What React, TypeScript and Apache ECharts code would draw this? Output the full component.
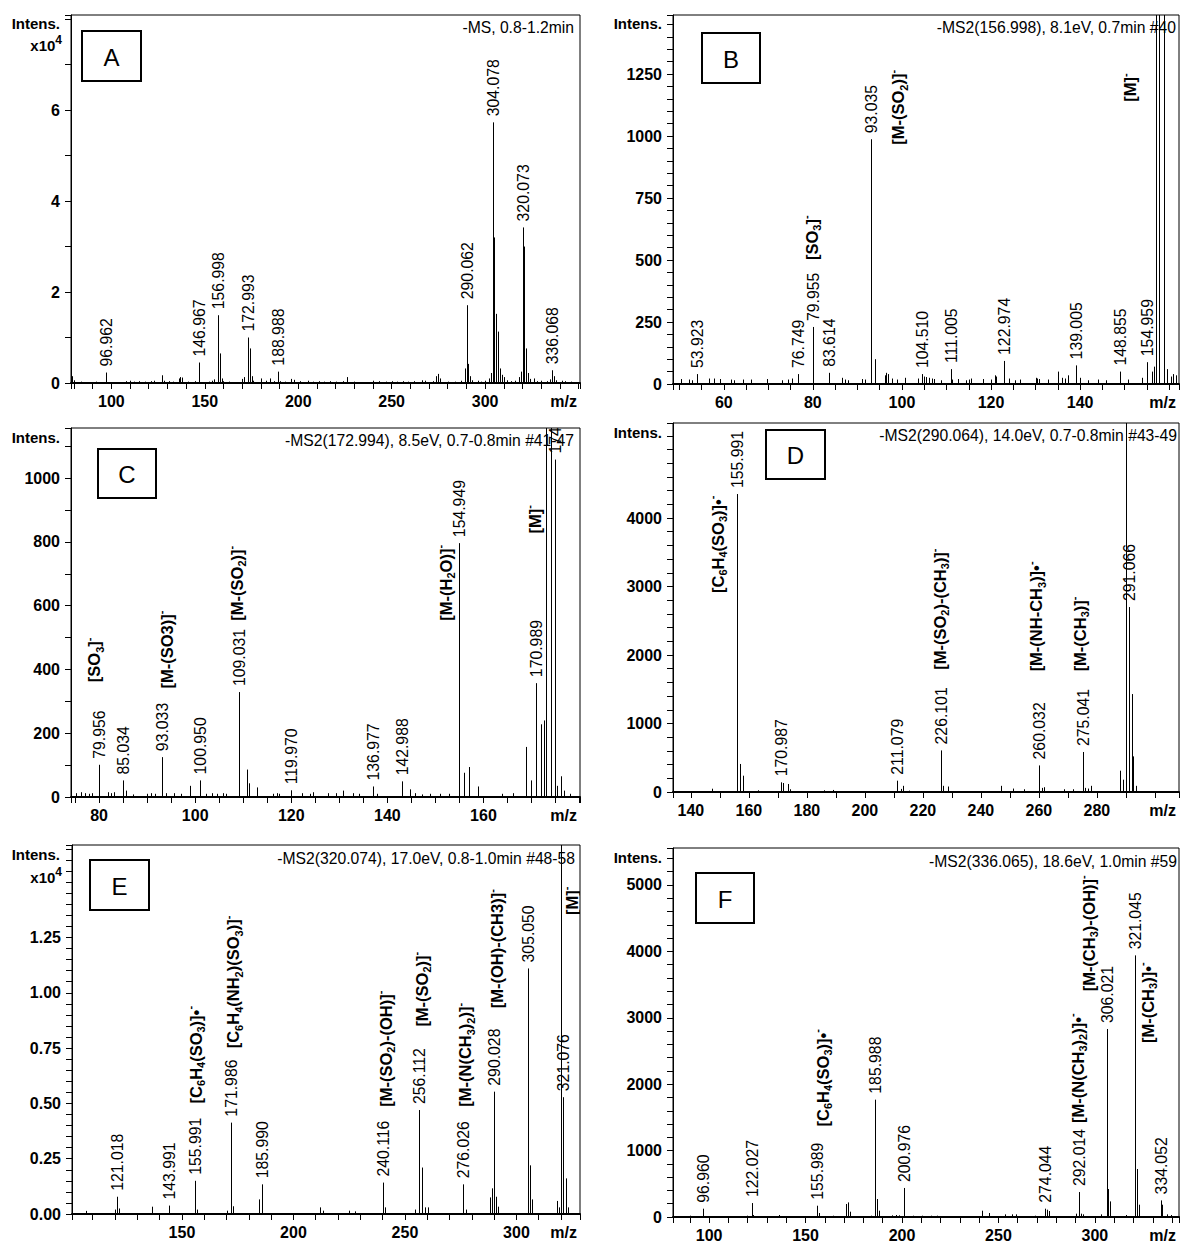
import React, { useEffect, useRef } from "react";
import * as echarts from "echarts";

type Peak = [number, number];
type Ann = [number, number, string];

const FONT = '"Liberation Sans", Arial, Helvetica, sans-serif';

// ---------------- Panel A (intensity in units of 10^4) ----------------
const titleA = "-MS, 0.8-1.2min";
const xLabelsA = [100, 150, 200, 250, 300];
const yLabelsA = [0, 2, 4, 6];
const labeledA: Peak[] = [
  [96.962, 0.23], [146.967, 0.45], [156.998, 1.49], [172.993, 1.0], [188.988, 0.25],
  [290.062, 1.71], [304.078, 5.73], [320.073, 3.42], [336.068, 0.28],
];
const otherA: Peak[] = [
  [79, 0.15], [80, 0.06], [84, 0.03], [88, 0.02], [92, 0.03], [101, 0.02], [108, 0.04], [110, 0.05],
  [112, 0.03], [115, 0.04], [118, 0.03], [121, 0.04], [123, 0.05], [127, 0.17], [128, 0.05], [131, 0.04],
  [133, 0.03], [136, 0.1], [137, 0.13], [138, 0.12], [141, 0.03], [145, 0.04], [152, 0.03], [154, 0.05],
  [155, 0.08], [158, 0.65], [159, 0.1], [160, 0.04], [163, 0.03], [170, 0.09], [171, 0.13], [174, 0.76],
  [175, 0.15], [176, 0.05], [180, 0.1], [183, 0.05], [185, 0.1], [187, 0.04], [190, 0.04], [193, 0.03],
  [196, 0.09], [198, 0.07], [201, 0.04], [205, 0.05], [208, 0.03], [211, 0.04], [214, 0.03], [217, 0.04],
  [220, 0.03], [224, 0.04], [226, 0.13], [230, 0.03], [233, 0.02], [240, 0.05], [243, 0.04], [247, 0.03],
  [250, 0.04], [253, 0.03], [256, 0.04], [259, 0.03], [262, 0.04], [266, 0.06], [268, 0.05], [272, 0.04],
  [274, 0.15], [275, 0.2], [276, 0.1], [280, 0.03], [284, 0.03], [287, 0.05], [289, 0.32], [291, 0.42],
  [292, 0.15], [293, 0.06], [296, 0.05], [298, 0.03], [300, 0.05], [302, 0.1], [303, 0.22], [305, 3.2],
  [306, 1.52], [307, 1.13], [308, 0.32], [309, 0.18], [310, 0.13], [312, 0.06], [314, 0.04], [316, 0.05],
  [318, 0.13], [319, 0.25], [321, 3.0], [322, 0.76], [323, 0.22], [324, 0.09], [326, 0.1], [328, 0.04],
  [330, 0.05], [333, 0.04], [335, 0.08], [337, 0.15], [338, 0.06], [341, 0.05], [343, 0.04], [346, 0.03],
];
const precursorA: Peak[] = [];
const annotationsA: Ann[] = [];

// ---------------- Panel B ----------------
const titleB = "-MS2(156.998), 8.1eV, 0.7min #40";
const xLabelsB = [60, 80, 100, 120, 140];
const yLabelsB = [0, 250, 500, 750, 1000, 1250];
const labeledB: Peak[] = [
  [53.923, 40], [76.749, 40], [79.955, 230], [83.614, 45], [93.035, 987], [104.51, 40],
  [111.005, 60], [122.974, 93], [139.005, 75], [148.855, 50], [154.959, 88],
];
const otherB: Peak[] = [
  [50.3, 20], [52.2, 18], [52.8, 15], [56.7, 22], [57.8, 22], [59.2, 20], [61.7, 18], [62.2, 15],
  [64.3, 18], [66.0, 18], [69.6, 20], [73.0, 15], [74.5, 18], [75.3, 22], [86.6, 25], [87.2, 18],
  [88.0, 15], [91.0, 20], [91.7, 18], [94.0, 100], [96.1, 35], [96.5, 45], [96.9, 40], [97.8, 22],
  [98.8, 18], [100.7, 25], [103.7, 22], [104.9, 30], [105.4, 28], [106.1, 25], [106.7, 22], [107.3, 20],
  [108.8, 15], [111.3, 18], [112.6, 20], [114.3, 15], [115.1, 18], [115.6, 22], [118.1, 20], [120.0, 18],
  [120.8, 35], [121.1, 30], [124.0, 22], [125.3, 15], [126.6, 18], [130.0, 25], [130.4, 22], [130.8, 20],
  [132.9, 18], [135.0, 50], [135.9, 25], [136.6, 22], [137.2, 35], [140.0, 25], [141.8, 15], [144.0, 18],
  [145.9, 15], [150.7, 18], [153.9, 25], [156.2, 50], [156.6, 70], [159.6, 60], [160.4, 30], [160.9, 40],
  [161.6, 35],
];
const precursorB: Peak[] = [[156.998, 9000], [157.6, 5000], [158.8, 3000]];
const annotationsB: Ann[] = [
  [99.2, 965, "[M-(SO_2)]^-"],
  [79.8, 500, "[SO_3]^-"],
  [151.3, 1138, "[M]^-"],
];

// ---------------- Panel C ----------------
const titleC = "-MS2(172.994), 8.5eV, 0.7-0.8min #41-47";
const xLabelsC = [80, 100, 120, 140, 160];
const yLabelsC = [0, 200, 400, 600, 800, 1000];
const labeledC: Peak[] = [
  [79.956, 101], [85.034, 52], [93.033, 125], [100.95, 52], [109.031, 329], [119.97, 21],
  [136.977, 33], [142.988, 49], [154.949, 796], [170.989, 357], [174.99, 1058],
];
const otherC: Peak[] = [
  [75.1, 12], [76.3, 15], [77.0, 12], [77.8, 10], [78.6, 12], [81.8, 15], [82.5, 12], [83.0, 15],
  [85.7, 20], [87.0, 8], [90.0, 10], [90.8, 12], [91.6, 10], [93.9, 12], [95.5, 12], [97.1, 10],
  [99.0, 35], [102.2, 10], [103.4, 12], [104.5, 10], [105.7, 12], [106.5, 10], [110.8, 86], [111.1, 43],
  [112.9, 30], [116.3, 10], [117.0, 12], [117.5, 10], [122.2, 12], [123.8, 10], [124.6, 15], [127.7, 12],
  [129.3, 12], [130.8, 20], [132.8, 12], [134.0, 10], [137.9, 10], [144.8, 24], [145.8, 12], [147.3, 8],
  [148.9, 10], [150.9, 10], [152.8, 10], [156.0, 76], [157.0, 94], [158.9, 33], [163.8, 10], [166.2, 12],
  [168.9, 157], [169.9, 52], [172.0, 228], [172.6, 240], [175.3, 35], [176.1, 65], [176.7, 20], [178.0, 10],
];
const precursorC: Peak[] = [[172.994, 5000], [174.05, 3000]];
const annotationsC: Ann[] = [
  [79.0, 360, "[SO_3]^-"],
  [94.1, 340, "[M-(SO3)]^-"],
  [108.6, 553, "[M-(SO_2)]^-"],
  [152.2, 553, "[M-(H_2O)]^-"],
  [170.7, 826, "[M]^-"],
];

// ---------------- Panel D ----------------
const titleD = "-MS2(290.064), 14.0eV, 0.7-0.8min #43-49";
const xLabelsD = [140, 160, 180, 200, 220, 240, 260, 280];
const yLabelsD = [0, 1000, 2000, 3000, 4000];
const labeledD: Peak[] = [
  [155.991, 4350], [170.987, 141], [211.079, 165], [226.101, 607], [260.032, 388], [275.041, 584],
  [291.066, 2700],
];
const otherD: Peak[] = [
  [147.3, 48], [157.0, 409], [157.9, 238], [163.1, 25], [171.9, 131], [173.5, 117], [174.2, 40],
  [185.9, 25], [188.9, 30], [212.3, 45], [213.2, 90], [215.2, 20], [227.1, 90], [228.8, 80], [246.8, 90],
  [250.9, 50], [254.9, 40], [261.1, 60], [261.8, 70], [268.5, 40], [271.8, 40], [276.0, 60], [277.0, 50],
  [278.0, 90], [288.0, 311], [288.9, 180], [292.0, 1430], [292.6, 520], [293.4, 90],
];
const precursorD: Peak[] = [[290.064, 9000]];
const annotationsD: Ann[] = [
  [149.2, 2905, "[C_6H_4(SO_3)]•^-"],
  [225.9, 1785, "[M-(SO_2)-(CH_3)]^-"],
  [259.1, 1761, "[M-(NH-CH_3)]•^-"],
  [274.0, 1761, "[M-(CH_3)]^-"],
];

// ---------------- Panel E (intensity in units of 10^4) ----------------
const titleE = "-MS2(320.074), 17.0eV, 0.8-1.0min #48-58";
const xLabelsE = [150, 200, 250, 300];
const yLabelsE = [0, 0.25, 0.5, 0.75, 1, 1.25];
const labeledE: Peak[] = [
  [121.018, 0.078], [143.991, 0.038], [155.991, 0.15], [171.986, 0.413], [185.99, 0.134],
  [240.116, 0.142], [256.112, 0.47], [276.026, 0.134], [290.028, 0.553], [305.05, 1.11], [321.076, 0.528],
];
const otherE: Peak[] = [
  [107.2, 0.014], [119.8, 0.02], [121.9, 0.025], [136.6, 0.033], [156.7, 0.02], [170.1, 0.015],
  [173.1, 0.035], [184.4, 0.066], [212.0, 0.03], [213.2, 0.015], [225.0, 0.015], [227.6, 0.012],
  [241.1, 0.03], [254.6, 0.02], [257.5, 0.21], [258.9, 0.03], [260.2, 0.03], [277.4, 0.02],
  [288.3, 0.075], [289.1, 0.116], [290.8, 0.078], [291.6, 0.033], [305.9, 0.22], [306.9, 0.066],
  [318.1, 0.059], [318.9, 0.03], [322.2, 0.161], [323.3, 0.03],
];
const precursorE: Peak[] = [[320.074, 5]];
const annotationsE: Ann[] = [
  [156.1, 0.5, "[C_6H_4(SO_3)]•^-"],
  [173.0, 0.749, "[C_6H_4(NH_2)(SO_3)]^-"],
  [241.5, 0.485, "[M-(SO_2)-(OH)]^-"],
  [257.6, 0.847, "[M-(SO_2)]^-"],
  [277.0, 0.485, "[M-(N(CH_3)_2)]^-"],
  [291.4, 0.93, "[M-(OH)-(CH3)]^-"],
  [324.8, 1.352, "[M]^-"],
];

// ---------------- Panel F ----------------
const titleF = "-MS2(336.065), 18.6eV, 1.0min #59";
const xLabelsF = [100, 150, 200, 250, 300];
const yLabelsF = [0, 1000, 2000, 3000, 4000, 5000];
const labeledF: Peak[] = [
  [96.96, 125], [122.027, 210], [155.989, 170], [185.988, 1767], [200.976, 437], [274.044, 125],
  [292.014, 376], [306.021, 2831], [321.045, 3940], [334.052, 250],
];
const otherF: Peak[] = [
  [88.5, 15], [90.1, 20], [94.0, 15], [119.5, 20], [123.0, 30], [136.1, 30], [144.9, 15], [156.9, 60],
  [164.4, 20], [171.0, 196], [172.0, 220], [173.0, 80], [184.0, 20], [187.0, 271], [188.0, 95],
  [194.8, 25], [196.7, 30], [198.7, 25], [205.5, 20], [210.4, 20], [215.3, 20], [218.2, 20], [241.7, 95],
  [245.2, 60], [253.4, 40], [257.0, 40], [259.3, 40], [269.1, 20], [275.0, 110], [276.0, 90], [290.4, 50],
  [293.0, 50], [294.0, 40], [303.3, 40], [307.0, 421], [308.0, 235], [316.0, 30], [322.0, 723],
  [323.0, 185], [335.0, 185], [337.6, 40], [339.5, 30],
];
const precursorF: Peak[] = [];
const annotationsF: Ann[] = [
  [159.0, 1364, "[C_6H_4(SO_3)]•^-"],
  [291.1, 1416, "[M-(N(CH_3)_2)]•^-"],
  [296.9, 3398, "[M-(CH_3)-(OH)]^-"],
  [327.3, 2620, "[M-(CH_3)]•^-"],
];

// ---------------- layout (positions / scales, not data) ----------------
const PANELS = [
  { letter: "A", title: titleA, labeled: labeledA, other: otherA, precursor: precursorA, ann: annotationsA,
    xLabels: xLabelsA, yLabels: yLabelsA, xMin: 78.4, xMax: 350.8, xTick: 10, yMax: 8.09, yTick: 1, yDigits: 0, exp: true,
    left: 71, top: 15, width: 509, height: 368, box: [82, 31, 59, 50], intensX: 60, intensY: 23, expY: 45, titleX: 574, titleY: 27 },
  { letter: "B", title: titleB, labeled: labeledB, other: otherB, precursor: precursorB, ann: annotationsB,
    xLabels: xLabelsB, yLabels: yLabelsB, xMin: 48.6, xMax: 162.2, xTick: 5, yMax: 1488, yTick: 50, yDigits: 0, exp: false,
    left: 673, top: 15, width: 506, height: 369, box: [702, 33, 58, 50], intensX: 662, intensY: 23, expY: 0, titleX: 1176, titleY: 27 },
  { letter: "C", title: titleC, labeled: labeledC, other: otherC, precursor: precursorC, ann: annotationsC,
    xLabels: xLabelsC, yLabels: yLabelsC, xMin: 74.15, xMax: 180.1, xTick: 5, yMax: 1157, yTick: 100, yDigits: 0, exp: false,
    left: 71, top: 428, width: 509, height: 369, box: [98, 449, 58, 49], intensX: 60, intensY: 437, expY: 0, titleX: 574, titleY: 440 },
  { letter: "D", title: titleD, labeled: labeledD, other: otherD, precursor: precursorD, ann: annotationsD,
    xLabels: xLabelsD, yLabels: yLabelsD, xMin: 133.85, xMax: 308.3, xTick: 10, yMax: 5387, yTick: 200, yDigits: 0, exp: false,
    left: 673, top: 423, width: 506, height: 369, box: [766, 430, 59, 49], intensX: 662, intensY: 432, expY: 0, titleX: 1177, titleY: 435 },
  { letter: "E", title: titleE, labeled: labeledE, other: otherE, precursor: precursorE, ann: annotationsE,
    xLabels: xLabelsE, yLabels: yLabelsE, xMin: 100.7, xMax: 328.5, xTick: 10, yMax: 1.668, yTick: 0.05, yDigits: 2, exp: true,
    left: 72, top: 845, width: 508, height: 369, box: [90, 860, 59, 50], intensX: 60, intensY: 854, expY: 877, titleX: 575, titleY: 858 },
  { letter: "F", title: titleF, labeled: labeledF, other: otherF, precursor: precursorF, ann: annotationsF,
    xLabels: xLabelsF, yLabels: yLabelsF, xMin: 81.3, xMax: 343.6, xTick: 10, yMax: 5557, yTick: 200, yDigits: 0, exp: false,
    left: 673, top: 848, width: 506, height: 369, box: [696, 873, 58, 50], intensX: 662, intensY: 857, expY: 0, titleX: 1177, titleY: 861 },
];

const RICH = {
  n: { fontSize: 16.5, fontWeight: "bold", fontFamily: FONT, fill: "#000", lineHeight: 22 },
  sb: { fontSize: 11, fontWeight: "bold", fontFamily: FONT, fill: "#000", lineHeight: 11, verticalAlign: "bottom" },
  sp: { fontSize: 11, fontWeight: "bold", fontFamily: FONT, fill: "#000", lineHeight: 11, verticalAlign: "top" },
};

function toRich(s: string): string {
  let out = "";
  let buf = "";
  const flush = () => {
    if (buf) {
      out += "{n|" + buf + "}";
      buf = "";
    }
  };
  for (let i = 0; i < s.length; i++) {
    const c = s[i];
    if ((c === "_" || c === "^") && i + 1 < s.length) {
      flush();
      out += "{" + (c === "_" ? "sb" : "sp") + "|" + s[i + 1] + "}";
      i++;
    } else {
      buf += c;
    }
  }
  flush();
  return out;
}

const near = (list: number[], v: number) => list.find((l) => Math.abs(l - v) < 1e-6);

function buildOption() {
  const grid: any[] = [];
  const xAxis: any[] = [];
  const yAxis: any[] = [];
  const series: any[] = [];
  const graphic: any[] = [];

  PANELS.forEach((p, i) => {
    grid.push({
      left: p.left, top: p.top, width: p.width, height: p.height,
      show: true, borderColor: "#000", borderWidth: 1, backgroundColor: "rgba(0,0,0,0)",
      containLabel: false, outerBoundsMode: "none",
    });
    xAxis.push({
      type: "value", gridIndex: i, min: p.xMin, max: p.xMax, minInterval: p.xTick, maxInterval: p.xTick,
      axisLine: { show: true, onZero: false, lineStyle: { color: "#000", width: 2 } },
      axisTick: { show: true, length: 6, lineStyle: { color: "#000", width: 1 } },
      splitLine: { show: false },
      axisLabel: {
        margin: 10, showMinLabel: true, showMaxLabel: true, color: "#000", fontSize: 16, fontWeight: "bold", fontFamily: FONT,
        formatter: (v: number) => { const l = near(p.xLabels, v); return l === undefined ? "" : String(l); },
      },
    });
    yAxis.push({
      type: "value", gridIndex: i, min: 0, max: p.yMax, minInterval: p.yTick, maxInterval: p.yTick,
      axisLine: { show: true, onZero: false, lineStyle: { color: "#000", width: 1 } },
      axisTick: { show: true, length: 6, lineStyle: { color: "#000", width: 1 } },
      splitLine: { show: false },
      axisLabel: {
        margin: 11, showMinLabel: true, showMaxLabel: true, color: "#000", fontSize: 16, fontWeight: "bold", fontFamily: FONT,
        formatter: (v: number) => { const l = near(p.yLabels, v); return l === undefined ? "" : l.toFixed(p.yDigits); },
      },
    });

    const sticks = [...p.other, ...p.labeled, ...p.precursor];
    series.push({
      type: "custom", xAxisIndex: i, yAxisIndex: i, clip: true, silent: true, z: 3,
      data: sticks,
      renderItem: (_params: any, api: any) => {
        const m = api.value(0);
        const v = api.value(1);
        const a = api.coord([m, 0]);
        const b = api.coord([m, v]);
        const x = Math.round(a[0]) + 0.5;
        return { type: "line", shape: { x1: x, y1: a[1], x2: x, y2: b[1] }, style: { stroke: "#000", lineWidth: 1 } };
      },
    });
    series.push({
      type: "custom", xAxisIndex: i, yAxisIndex: i, clip: true, silent: true, z: 2,
      data: p.labeled,
      renderItem: (_params: any, api: any) => {
        const m = api.value(0);
        const v = api.value(1);
        const c = api.coord([m, v]);
        return {
          type: "text", x: Math.round(c[0]) + 0.5, y: c[1] - 6, rotation: Math.PI / 2,
          style: { text: m.toFixed(3), fontSize: 15.8, fontFamily: FONT, fill: "#000", align: "left", verticalAlign: "middle" },
        };
      },
    });
    const anns = p.ann;
    series.push({
      type: "custom", xAxisIndex: i, yAxisIndex: i, clip: true, silent: true, z: 2,
      data: anns.map((a) => [a[0], a[1]]),
      renderItem: (params: any, api: any) => {
        const c = api.coord([api.value(0), api.value(1)]);
        const a = anns[params.dataIndex];
        return {
          type: "text", x: c[0], y: c[1], rotation: Math.PI / 2,
          style: { text: toRich(a[2]), rich: RICH, fill: "#000", align: "left", verticalAlign: "middle" },
        };
      },
    });

    // panel decorations
    const [bx, by, bw, bh] = p.box;
    graphic.push({ type: "rect", shape: { x: bx, y: by, width: bw, height: bh }, style: { fill: "#fff", stroke: "#000", lineWidth: 2 }, z: 10 });
    graphic.push({
      type: "text", x: bx + bw / 2, y: by + bh / 2 + 1, z: 11,
      style: { text: p.letter, fontSize: 24, fontFamily: FONT, fill: "#000", align: "center", verticalAlign: "middle" },
    });
    graphic.push({
      type: "text", x: p.intensX, y: p.intensY, z: 11,
      style: { text: "Intens.", fontSize: 15, fontWeight: "bold", fontFamily: FONT, fill: "#000", align: "right", verticalAlign: "middle" },
    });
    if (p.exp) {
      graphic.push({
        type: "text", x: p.intensX + 2, y: p.expY, z: 11,
        style: {
          text: "{a|x10}{b|4}", align: "right", verticalAlign: "middle", fill: "#000",
          rich: {
            a: { fontSize: 15, fontWeight: "bold", fontFamily: FONT, fill: "#000", lineHeight: 22 },
            b: { fontSize: 12, fontWeight: "bold", fontFamily: FONT, fill: "#000", lineHeight: 12, verticalAlign: "top" },
          },
        },
      });
    }
    graphic.push({
      type: "text", x: p.titleX, y: p.titleY, z: 1,
      style: { text: p.title, fontSize: 15.7, fontFamily: FONT, fill: "#000", align: "right", verticalAlign: "middle" },
    });
    graphic.push({
      type: "text", x: p.left + p.width - 3, y: p.top + p.height + 18, z: 11,
      style: { text: "m/z", fontSize: 16, fontWeight: "bold", fontFamily: FONT, fill: "#000", align: "right", verticalAlign: "middle" },
    });
  });

  return { animation: false, backgroundColor: "#ffffff", grid, xAxis, yAxis, series, graphic };
}

export default function App() {
  const ref = useRef<HTMLDivElement>(null);
  useEffect(() => {
    document.body.style.margin = "0";
    if (!ref.current) return;
    const chart = echarts.init(ref.current, undefined, { renderer: "svg" });
    chart.setOption(buildOption() as any);
    return () => chart.dispose();
  }, []);
  return <div ref={ref} style={{ width: 1180, height: 1242, background: "#fff" }} />;
}
